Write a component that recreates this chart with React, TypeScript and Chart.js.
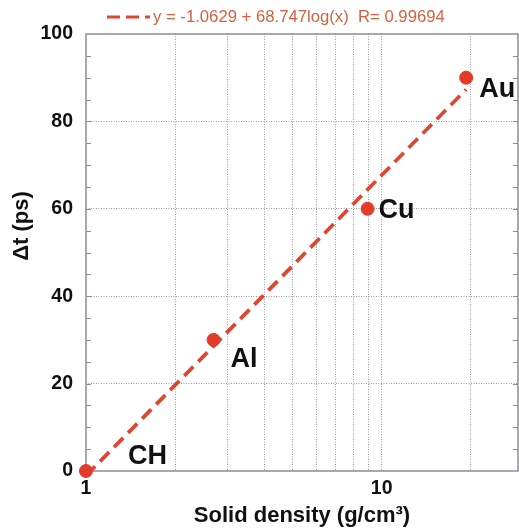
import { useEffect, useRef } from "react";
import { Chart, registerables } from "chart.js";

Chart.register(...registerables);

// Measured Δt for each target material versus its solid density
const MATERIALS = ["CH", "Al", "Cu", "Au"];
const DENSITY = [1.0, 2.7, 8.96, 19.3];
const DELTA_T = [0, 30, 60, 90];

// Logarithmic fit: y = a + b·log10(x)
const FIT_INTERCEPT = -1.0629;
const FIT_SLOPE = 68.747;
const FIT_R = 0.99694;
const FIT_RANGE = [1, 19.3];

// Axis ticks
const X_TICKS = [1, 2, 3, 4, 5, 6, 7, 8, 9, 10, 20];
const X_TICK_LABELS = ["1", "10"];
const Y_TICK_LABELS = [0, 20, 40, 60, 80, 100];

const X_TITLE = "Solid density (g/cm³)";
const Y_TITLE = "Δt (ps)";

const WIDTH = 519;
const HEIGHT = 529;
const FONT = '"Liberation Sans", Helvetica, Arial, sans-serif';
const DOT_COLOR = "#e23b2a";
const FIT_COLOR = "#e0452f";
const LEGEND_COLOR = "#d6603f";
const FRAME_COLOR = "#8c8c96";
const GRID_COLOR = "#9a9aa2";
const TEXT_COLOR = "#111111";

// Where each material name sits relative to its point (pixels)
const LABEL_OFFSETS = [
  { dx: 42, dy: -7 },
  { dx: 17, dy: 27 },
  { dx: 11, dy: 9 },
  { dx: 13, dy: 19 },
];

const fitValue = (x: number) => FIT_INTERCEPT + FIT_SLOPE * Math.log10(x);

const framePlugin = {
  id: "frame",
  beforeDatasetsDraw(chart: any) {
    const { ctx, chartArea } = chart;
    const { left, right, top, bottom } = chartArea;
    const y = chart.scales.y;
    ctx.save();
    ctx.strokeStyle = FRAME_COLOR;
    ctx.lineWidth = 1;
    ctx.setLineDash([]);
    // inward minor ticks every 5 units on both vertical edges
    for (let v = 5; v < 100; v += 5) {
      const py = Math.round(y.getPixelForValue(v)) + 0.5;
      ctx.beginPath();
      ctx.moveTo(left, py);
      ctx.lineTo(left + 5, py);
      ctx.moveTo(right, py);
      ctx.lineTo(right - 5, py);
      ctx.stroke();
    }
    ctx.lineWidth = 1.5;
    ctx.strokeRect(left, top, right - left, bottom - top);
    ctx.restore();
  },
};

// Vertical axis title, set a little above the middle of the axis
const yTitlePlugin = {
  id: "yTitle",
  afterDraw(chart: any) {
    const { ctx } = chart;
    ctx.save();
    ctx.translate(22, 226);
    ctx.rotate(-Math.PI / 2);
    ctx.font = `bold 22px ${FONT}`;
    ctx.fillStyle = TEXT_COLOR;
    ctx.textAlign = "center";
    ctx.textBaseline = "middle";
    ctx.fillText(Y_TITLE, 0, 0);
    ctx.restore();
  },
};

const labelPlugin = {
  id: "materialLabels",
  afterDatasetsDraw(chart: any) {
    const { ctx } = chart;
    const meta = chart.getDatasetMeta(0);
    ctx.save();
    ctx.font = `bold 27px ${FONT}`;
    ctx.fillStyle = TEXT_COLOR;
    ctx.textBaseline = "alphabetic";
    ctx.textAlign = "left";
    meta.data.forEach((pt: any, i: number) => {
      const off = LABEL_OFFSETS[i];
      ctx.fillText(MATERIALS[i], pt.x + off.dx, pt.y + off.dy);
    });
    ctx.restore();
  },
};

const fitLegendPlugin = {
  id: "fitLegend",
  afterDraw(chart: any) {
    const { ctx } = chart;
    ctx.save();
    ctx.strokeStyle = FIT_COLOR;
    ctx.lineWidth = 3;
    ctx.setLineDash([13, 6]);
    ctx.beginPath();
    ctx.moveTo(107, 17);
    ctx.lineTo(150, 17);
    ctx.stroke();
    ctx.setLineDash([]);
    ctx.font = `16.7px ${FONT}`;
    ctx.fillStyle = LEGEND_COLOR;
    ctx.textBaseline = "middle";
    ctx.textAlign = "left";
    ctx.fillText(
      `y = ${FIT_INTERCEPT} + ${FIT_SLOPE}log(x)  R= ${FIT_R}`,
      153,
      17
    );
    ctx.restore();
  },
};

export default function App() {
  const canvasRef = useRef<HTMLCanvasElement | null>(null);

  useEffect(() => {
    const canvas = canvasRef.current;
    if (!canvas) return;

    const chart = new Chart(canvas, {
      type: "scatter",
      data: {
        datasets: [
          {
            label: "Δt",
            data: DENSITY.map((x, i) => ({ x, y: DELTA_T[i] })),
            backgroundColor: DOT_COLOR,
            borderColor: DOT_COLOR,
            pointRadius: 6.5,
            showLine: false,
            clip: false,
          },
          {
            label: "fit",
            data: FIT_RANGE.map((x) => ({ x, y: fitValue(x) })),
            showLine: true,
            borderColor: FIT_COLOR,
            borderWidth: 3.7,
            borderDash: [13, 7],
            pointRadius: 0,
            fill: false,
          },
        ],
      },
      options: {
        responsive: false,
        animation: false,
        layout: {
          autoPadding: false,
          padding: { top: 34, right: 1, left: 0, bottom: 0 },
        },
        plugins: {
          legend: { display: false },
          tooltip: { enabled: false },
        },
        scales: {
          x: {
            type: "logarithmic",
            min: 1,
            max: 28.9,
            afterBuildTicks: (scale: any) => {
              scale.ticks = X_TICKS.map((v) => ({ value: v }));
            },
            afterFit: (scale: any) => {
              scale.height = 58;
              scale.paddingLeft = 0;
              scale.paddingRight = 0;
            },
            ticks: {
              autoSkip: false,
              maxRotation: 0,
              padding: 6,
              color: TEXT_COLOR,
              font: { family: FONT, size: 19.5, weight: "bold" },
              callback: (v: any) =>
                X_TICK_LABELS.includes(String(v)) ? String(v) : "",
            },
            grid: {
              drawTicks: false,
              lineWidth: 1,
              color: (ctx: any) =>
                ctx.tick && ctx.tick.value === 1 ? "rgba(0,0,0,0)" : GRID_COLOR,
            },
            border: { display: false, dash: [1, 1.5] },
            title: {
              display: true,
              text: X_TITLE,
              color: TEXT_COLOR,
              font: { family: FONT, size: 22, weight: "bold" },
              padding: { top: 0, bottom: 0 },
            },
          },
          y: {
            min: 0,
            max: 100,
            afterFit: (scale: any) => {
              scale.width = 86;
              scale.paddingTop = 0;
              scale.paddingBottom = 0;
            },
            ticks: {
              stepSize: 5,
              autoSkip: false,
              padding: 13,
              color: TEXT_COLOR,
              font: { family: FONT, size: 19.5, weight: "bold" },
              callback: (v: any) =>
                Y_TICK_LABELS.includes(Number(v)) ? String(v) : "",
            },
            grid: {
              drawTicks: false,
              lineWidth: 1,
              color: (ctx: any) => {
                const v = ctx.tick ? ctx.tick.value : 0;
                return Y_TICK_LABELS.includes(v) && v !== 0 && v !== 100
                  ? GRID_COLOR
                  : "rgba(0,0,0,0)";
              },
            },
            border: { display: false, dash: [1, 1.5] },
            title: { display: false },
          },
        },
      },
      plugins: [framePlugin, labelPlugin, fitLegendPlugin, yTitlePlugin],
    });

    return () => chart.destroy();
  }, []);

  return (
    <canvas
      ref={canvasRef}
      width={WIDTH}
      height={HEIGHT}
      style={{
        position: "absolute",
        left: 0,
        top: 0,
        width: WIDTH,
        height: HEIGHT,
        display: "block",
        background: "#ffffff",
      }}
    />
  );
}
